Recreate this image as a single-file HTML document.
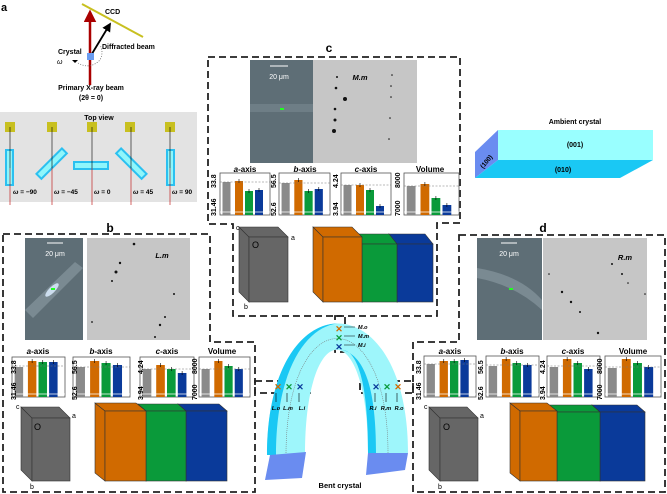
<!DOCTYPE html>
<html><head><meta charset="utf-8"><style>
html,body{margin:0;padding:0;background:#fff}
svg{display:block;font-family:"Liberation Sans",sans-serif}
</style></head><body>
<svg width="667" height="494" viewBox="0 0 667 494" xmlns="http://www.w3.org/2000/svg">
<defs>
<marker id="ar" viewBox="0 0 10 10" refX="8" refY="5" markerWidth="5" markerHeight="5" orient="auto"><path d="M0,0L10,5L0,10z" fill="#a00"/></marker>
<marker id="ak" viewBox="0 0 10 10" refX="8" refY="5" markerWidth="5" markerHeight="5" orient="auto"><path d="M0,0L10,5L0,10z" fill="#000"/></marker>
</defs>
<!-- panel a -->
<text x="1" y="11" font-size="11" font-weight="bold">a</text>
<line x1="82" y1="4" x2="143" y2="37" stroke="#c8c020" stroke-width="2"/>
<line x1="90" y1="85" x2="90" y2="12" stroke="#a00" stroke-width="2.5" marker-end="url(#ar)"/>
<line x1="90" y1="57" x2="110" y2="24" stroke="#000" stroke-width="1.8" marker-end="url(#ak)"/>
<rect x="87" y="53" width="7" height="7" fill="#6a9cf0"/>
<path d="M78,63 Q90,70 100,60 Q104,52 100,45" fill="none" stroke="#555" stroke-dasharray="1,1.5" stroke-width="0.7"/>
<text x="105" y="14" font-size="7" font-weight="bold">CCD</text>
<text x="102" y="49" font-size="7" font-weight="bold">Diffracted beam</text>
<text x="58" y="54" font-size="7" font-weight="bold">Crystal</text>
<text x="57" y="64" font-size="7" font-style="italic">ω</text><path d="M72,60h6l-3,3z" fill="#000"/>
<text x="91" y="90" font-size="7" font-weight="bold" text-anchor="middle">Primary X-ray beam</text>
<text x="91" y="100" font-size="7" font-weight="bold" text-anchor="middle">(2θ = 0)</text>
<rect x="0" y="112" width="197" height="90" fill="#e3e3e3"/>
<text x="99" y="120" font-size="7" font-weight="bold" text-anchor="middle">Top view</text>
<g fill="#c8c020">
<rect x="5" y="122" width="10" height="10"/><rect x="47" y="122" width="10" height="10"/><rect x="87" y="122" width="10" height="10"/><rect x="125" y="122" width="10" height="10"/><rect x="165" y="122" width="10" height="10"/></g>
<g fill="#8ff6fb" stroke="#2bc0f0" stroke-width="2">
<rect x="6" y="150" width="7" height="35"/>
<rect x="34" y="160" width="36" height="7" transform="rotate(-45 52 164)"/>
<rect x="74" y="162" width="34" height="7"/>
<rect x="113" y="160" width="36" height="7" transform="rotate(45 131 164)"/>
<rect x="167" y="150" width="7" height="35"/></g>
<g stroke="#000" stroke-width="0.6">
<line x1="10" y1="127" x2="10" y2="168"/><line x1="52" y1="127" x2="52" y2="168"/><line x1="92" y1="127" x2="92" y2="168"/><line x1="131" y1="127" x2="131" y2="168"/><line x1="170" y1="127" x2="170" y2="168"/></g>
<g stroke="#b00" stroke-width="0.6">
<line x1="10" y1="168" x2="10" y2="205"/><line x1="52" y1="168" x2="52" y2="205"/><line x1="92" y1="168" x2="92" y2="205"/><line x1="131" y1="168" x2="131" y2="205"/><line x1="170" y1="168" x2="170" y2="205"/></g>
<g font-size="6.5" font-weight="bold"><text x="13" y="194"><tspan font-style="italic">ω</tspan> = −90</text><text x="54" y="194"><tspan font-style="italic">ω</tspan> = −45</text><text x="94" y="194"><tspan font-style="italic">ω</tspan> = 0</text><text x="133" y="194"><tspan font-style="italic">ω</tspan> = 45</text><text x="172" y="194"><tspan font-style="italic">ω</tspan> = 90</text></g>

<!-- Ambient crystal -->
<text x="575" y="124" font-size="7" font-weight="bold" text-anchor="middle">Ambient crystal</text>
<polygon points="498,130 653,130 653,160 498,160" fill="#9ff"/>
<polygon points="475,152 498,130 498,160 475,178" fill="#6a8cf0"/>
<polygon points="475,178 620,178 653,160 498,160" fill="#1ac8f4"/>
<text x="575" y="147" font-size="7" font-weight="bold" text-anchor="middle">(001)</text>
<text x="563" y="172" font-size="7" font-weight="bold" text-anchor="middle">(010)</text>
<text x="488" y="163" font-size="6.5" font-weight="bold" text-anchor="middle" transform="rotate(-50 488 163)">(100)</text>

<!-- labels -->
<text x="329" y="52" font-size="12" font-weight="bold" text-anchor="middle">c</text>
<text x="110" y="232" font-size="12" font-weight="bold" text-anchor="middle">b</text>
<text x="543" y="232" font-size="12" font-weight="bold" text-anchor="middle">d</text>

<!-- dashed boxes -->
<g fill="none" stroke="#222" stroke-width="1.8" stroke-dasharray="7,4">
<path d="M208,57H460V223H437V316H233V224H208Z"/>
<rect x="335" y="316" width="10" height="36"/>
<path d="M3,234H210V342H255V492H3Z"/>
<rect x="255" y="381" width="55" height="12"/>
<path d="M459,235H665V492H413V342H459Z"/>
<rect x="360" y="381" width="53" height="12"/>
</g>

<!-- images c -->
<rect x="250" y="60" width="63" height="103" fill="#5e6e76"/>
<rect x="250" y="104" width="63" height="8" fill="#6e7e86"/>
<rect x="280" y="108" width="4" height="2" fill="#2f2"/>
<line x1="270" y1="66" x2="288" y2="66" stroke="#fff"/>
<text x="279" y="79" font-size="7" fill="#fff" text-anchor="middle">20 μm</text>
<rect x="313" y="60" width="104" height="103" fill="#c6c6c6"/>
<text x="360" y="80" font-size="7.5" font-weight="bold" font-style="italic" text-anchor="middle">M.m</text>
<g fill="#111"><circle cx="337" cy="77" r="1"/><circle cx="336" cy="88" r="1.3"/><circle cx="345" cy="99" r="2"/><circle cx="335" cy="109" r="1.3"/><circle cx="335" cy="120" r="1.5"/><circle cx="334" cy="131" r="2"/><circle cx="392" cy="75" r="0.8"/><circle cx="391" cy="86" r="0.8"/><circle cx="391" cy="97" r="0.8"/><circle cx="390" cy="118" r="0.8"/><circle cx="389" cy="139" r="0.8"/></g>

<!-- images b -->
<rect x="25" y="238" width="58" height="102" fill="#5e6e76"/>
<path d="M25,310L75,262L83,268L33,318Z" fill="#7a8a92"/>
<ellipse cx="52" cy="290" rx="9" ry="3" fill="#cde" transform="rotate(-45 52 290)"/>
<rect x="51" y="288" width="4" height="2" fill="#2f2"/>
<line x1="47" y1="243" x2="63" y2="243" stroke="#fff"/>
<text x="55" y="256" font-size="7" fill="#fff" text-anchor="middle">20 μm</text>
<rect x="87" y="238" width="103" height="102" fill="#c6c6c6"/>
<text x="162" y="258" font-size="7.5" font-weight="bold" font-style="italic" text-anchor="middle">L.m</text>
<g fill="#111"><circle cx="134" cy="244" r="1.3"/><circle cx="120" cy="263" r="1.2"/><circle cx="116" cy="272" r="1.5"/><circle cx="112" cy="281" r="1"/><circle cx="174" cy="294" r="1"/><circle cx="165" cy="317" r="1"/><circle cx="160" cy="325" r="1.2"/><circle cx="155" cy="337" r="1"/><circle cx="92" cy="322" r="0.9"/></g>

<!-- images d -->
<rect x="477" y="238" width="65" height="102" fill="#5e6e76"/>
<path d="M477,268Q520,275 542,300L542,310Q515,285 477,278Z" fill="#7a8a92"/>
<rect x="509" y="288" width="4" height="2" fill="#2f2"/>
<line x1="501" y1="243" x2="517" y2="243" stroke="#fff"/>
<text x="509" y="256" font-size="7" fill="#fff" text-anchor="middle">20 μm</text>
<rect x="543" y="238" width="104" height="102" fill="#c6c6c6"/>
<text x="625" y="260" font-size="7.5" font-weight="bold" font-style="italic" text-anchor="middle">R.m</text>
<g fill="#111"><circle cx="562" cy="292" r="1.2"/><circle cx="571" cy="302" r="1.2"/><circle cx="580" cy="312" r="1"/><circle cx="598" cy="333" r="1.2"/><circle cx="612" cy="264" r="1"/><circle cx="622" cy="274" r="1"/><circle cx="628" cy="283" r="0.8"/><circle cx="645" cy="294" r="0.8"/><circle cx="549" cy="274" r="0.8"/></g>

<!-- charts -->
<g id="charts" stroke-width="0.8"></g>
<g font-size="8" text-anchor="middle" font-weight="bold">
<text x="245" y="172"><tspan font-style="italic">a</tspan>-axis</text>
<text x="305" y="172"><tspan font-style="italic">b</tspan>-axis</text>
<text x="366" y="172"><tspan font-style="italic">c</tspan>-axis</text>
<text x="430" y="172">Volume</text>
<text x="38" y="354"><tspan font-style="italic">a</tspan>-axis</text>
<text x="101" y="354"><tspan font-style="italic">b</tspan>-axis</text>
<text x="167" y="354"><tspan font-style="italic">c</tspan>-axis</text>
<text x="222" y="354">Volume</text>
<text x="450" y="354"><tspan font-style="italic">a</tspan>-axis</text>
<text x="512" y="354"><tspan font-style="italic">b</tspan>-axis</text>
<text x="573" y="354"><tspan font-style="italic">c</tspan>-axis</text>
<text x="633" y="354">Volume</text>
</g>
<g font-size="7" font-weight="bold">
<text transform="translate(216,188) rotate(-90)">33.8</text><text transform="translate(216,216) rotate(-90)">31.46</text>
<text transform="translate(276,188) rotate(-90)">56.5</text><text transform="translate(276,216) rotate(-90)">52.6</text>
<text transform="translate(338,188) rotate(-90)">4.24</text><text transform="translate(338,216) rotate(-90)">3.94</text>
<text transform="translate(400,188) rotate(-90)">8000</text><text transform="translate(400,216) rotate(-90)">7000</text>
<text transform="translate(16,374) rotate(-90)">33.8</text><text transform="translate(16,400) rotate(-90)">31.46</text>
<text transform="translate(77,374) rotate(-90)">56.5</text><text transform="translate(77,400) rotate(-90)">52.6</text>
<text transform="translate(143,374) rotate(-90)">4.24</text><text transform="translate(143,400) rotate(-90)">3.94</text>
<text transform="translate(197,374) rotate(-90)">8000</text><text transform="translate(197,400) rotate(-90)">7000</text>
<text transform="translate(421,374) rotate(-90)">33.8</text><text transform="translate(421,400) rotate(-90)">31.46</text>
<text transform="translate(483,374) rotate(-90)">56.5</text><text transform="translate(483,400) rotate(-90)">52.6</text>
<text transform="translate(545,374) rotate(-90)">4.24</text><text transform="translate(545,400) rotate(-90)">3.94</text>
<text transform="translate(602,374) rotate(-90)">8000</text><text transform="translate(602,400) rotate(-90)">7000</text>
</g>

<!-- cubes -->
<g id="cubes" stroke="#333" stroke-width="0.6"></g>
<g font-size="7">
<text x="236" y="230">c</text><text x="291" y="240">a</text><text x="244" y="309">b</text><text x="252" y="248" font-size="9">O</text>
<text x="16" y="409">c</text><text x="72" y="418">a</text><text x="30" y="489">b</text><text x="34" y="430" font-size="9">O</text>
<text x="424" y="409">c</text><text x="480" y="418">a</text><text x="438" y="489">b</text><text x="443" y="430" font-size="9">O</text>
</g>

<!-- bent crystal -->
<path d="M267,455C267,280 408,280 408,453L368,453C368,315 305,315 305,455Z" fill="#9ef6fb"/>
<path d="M267,455C267,367.5 302.25,323.75 337.5,323.5C306,327 276,370 276,455Z" fill="#1ac8f4"/>
<path d="M342,349.8C358,351 368,384 368,453L376,453C376,392 366,356 342,349.8Z" fill="#1ac8f4"/>
<path d="M286,455C286,300 388,300 388,453" fill="none" stroke="#777" stroke-width="0.6" stroke-dasharray="1,1"/>
<polygon points="270,455 306,452 302,478 265,480" fill="#6a8cf0"/>
<polygon points="368,453 408,453 405,470 366,475" fill="#6a8cf0"/>
<g font-size="9" font-weight="bold">
<text x="339" y="332" fill="#d06a00" text-anchor="middle">✕</text>
<text x="339" y="341" fill="#0a9a3a" text-anchor="middle">✕</text>
<text x="339" y="350" fill="#0a3a9a" text-anchor="middle">✕</text>
<text x="278" y="390" fill="#d06a00" text-anchor="middle">✕</text>
<text x="289" y="390" fill="#0a9a3a" text-anchor="middle">✕</text>
<text x="300" y="390" fill="#0a3a9a" text-anchor="middle">✕</text>
<text x="376" y="390" fill="#0a3a9a" text-anchor="middle">✕</text>
<text x="387" y="390" fill="#0a9a3a" text-anchor="middle">✕</text>
<text x="398" y="390" fill="#d06a00" text-anchor="middle">✕</text>
</g>
<g stroke="#000" stroke-width="0.6" fill="none">
<path d="M344,327H355M344,336H355M344,345H355"/>
<path d="M276,393V402M287,393V402M299,393V402M375,393V402M386,393V402M397,393V402"/>
</g>
<g font-size="5.5" font-weight="bold" font-style="italic">
<text x="358" y="329">M.o</text><text x="358" y="338">M.m</text><text x="358" y="347">M.i</text>
<text x="276" y="410" text-anchor="middle">L.o</text><text x="288" y="410" text-anchor="middle">L.m</text><text x="302" y="410" text-anchor="middle">L.i</text>
<text x="373" y="410" text-anchor="middle">R.i</text><text x="386" y="410" text-anchor="middle">R.m</text><text x="399" y="410" text-anchor="middle">R.o</text>
</g>
<text x="340" y="488" font-size="7.5" font-weight="bold" text-anchor="middle">Bent crystal</text>

<script>
(function(){
var NS="http://www.w3.org/2000/svg";
function el(p,t,a){var e=document.createElementNS(NS,t);for(var k in a)e.setAttribute(k,a[k]);p.appendChild(e);return e;}
var g=document.getElementById("charts");
var cols=["#8a8a8a","#d06a00","#0a9a3a","#0a3a9a"];
function chart(x,y,w,h,tops,ref){
 el(g,"rect",{x:x,y:y,width:w,height:h,fill:"#fff",stroke:"#555"});
 var xs=[0.05,0.3,0.5,0.7];
 for(var i=0;i<4;i++){var bx=x+xs[i]*w;el(g,"rect",{x:bx,y:tops[i],width:w*0.16,height:y+h-tops[i],fill:cols[i]});
  if(i>0)el(g,"line",{x1:bx+w*0.08,y1:tops[i]-2,x2:bx+w*0.08,y2:tops[i]+2,stroke:"#000","stroke-width":0.6});}
 el(g,"line",{x1:x,y1:ref,x2:x+w,y2:ref,stroke:"#777","stroke-dasharray":"2,1.5","stroke-width":0.6});
 el(g,"line",{x1:x,y1:y+h-3,x2:x+w,y2:y+h-3,stroke:"#fff","stroke-width":0.8});
}
chart(220,173,50,42,[182,181,191,190],182);
chart(279,173,51,42,[183,180,191,189],183);
chart(341,173,50,42,[185,185,190,206],185);
chart(404,173,55,42,[186,184,198,205],186);
chart(12,357,53,40,[367,361,362,362],366);
chart(73,357,57,40,[367,361,363,365],367);
chart(140,357,54,40,[369,365,369,373],369);
chart(199,357,51,40,[369,361,366,369],369);
chart(424,356,52,41,[364,361,361,360],364);
chart(486,356,53,41,[366,359,363,365],365);
chart(547,356,53,41,[367,359,363,369],366);
chart(605,356,56,41,[368,359,363,367],367);
var c=document.getElementById("cubes");
function block(x,y,w,h,col,dx,dy){
 el(c,"polygon",{points:(x-dx)+","+(y-dy)+" "+x+","+y+" "+x+","+(y+h)+" "+(x-dx)+","+(y+h-dy),fill:col,stroke:"#333","stroke-width":0.6});
 el(c,"polygon",{points:(x-dx)+","+(y-dy)+" "+(x+w-dx)+","+(y-dy)+" "+(x+w)+","+y+" "+x+","+y,fill:col,stroke:"#333","stroke-width":0.6});
 el(c,"rect",{x:x,y:y,width:w,height:h,fill:col,stroke:"#333","stroke-width":0.6});
}
var OR="#d06a00",GR="#0a9a3a",BL="#0a3a9a",GY="#666";
block(249,237,39,65,GY,10,10);
block(397,244,36,58,BL,8,10);
block(362,244,35,58,GR,8,10);
block(323,237,39,65,OR,10,10);
block(32,418,38,63,GY,11,11);
block(186,411,41,70,BL,8,7);
block(146,411,40,70,GR,8,7);
block(105,411,41,70,OR,10,8);
block(440,418,38,63,GY,11,11);
block(600,412,45,69,BL,8,7);
block(557,412,43,69,GR,8,7);
block(520,411,37,70,OR,10,8);
})();
</script>
</svg>
</body></html>
